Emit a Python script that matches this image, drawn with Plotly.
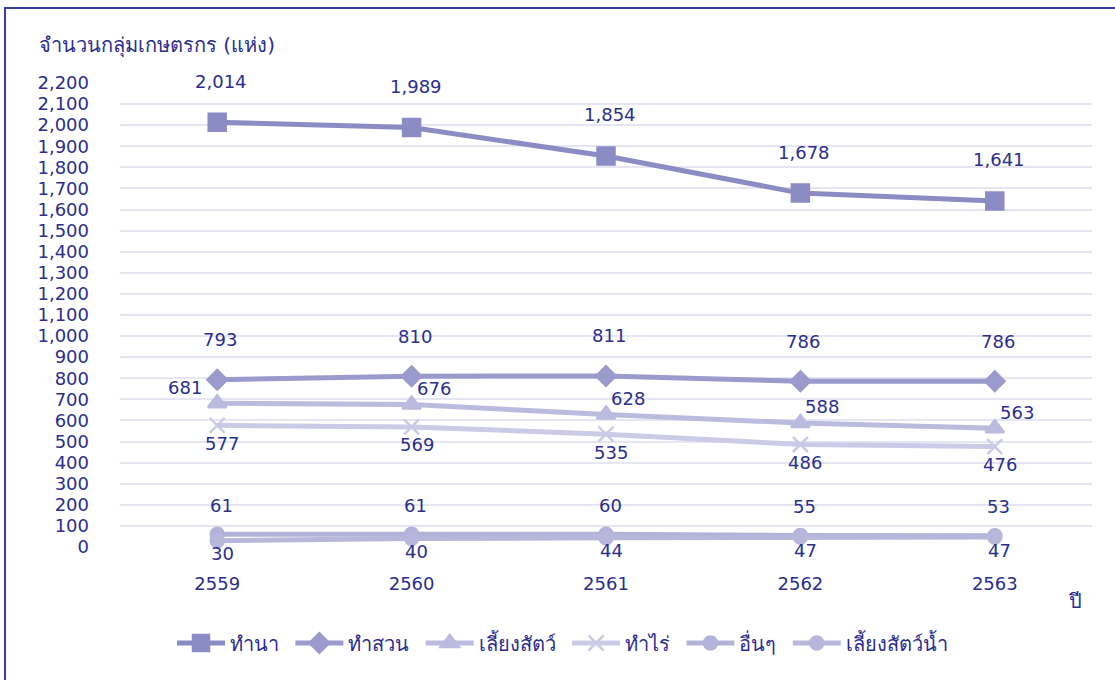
import plotly.graph_objects as go

# Farmer groups by activity, Thai Buddhist-era years
years = ["2559", "2560", "2561", "2562", "2563"]
rice = [2014, 1989, 1854, 1678, 1641]          # ทำนา
orchard = [793, 810, 811, 786, 786]           # ทำสวน
livestock = [681, 676, 628, 588, 563]         # เลี้ยงสัตว์
field_crops = [577, 569, 535, 486, 476]       # ทำไร่
others = [61, 61, 60, 55, 53]                 # อื่นๆ
aquaculture = [30, 40, 44, 47, 47]            # เลี้ยงสัตว์น้ำ

TEXT = "#2B2E8C"
FONT = "Tahoma, 'DejaVu Sans', 'Noto Sans', sans-serif"
PAD = "\u00a0"  # trailing pad to widen legend spacing

series = [
    ("ทำนา", rice, "#8C8CC4", "square", 17),
    ("ทำสวน", orchard, "#9A9ACC", "diamond", 15),
    ("เลี้ยงสัตว์", livestock, "#BBBBDF", "triangle-up", 16),
    ("ทำไร่", field_crops, "#CBCBE7", "x-thin-open", 15),
    ("อื่นๆ", others, "#B3B3D9", "circle", 13),
    ("เลี้ยงสัตว์น้ำ", aquaculture, "#B7B7DB", "circle", 13),
]

fig = go.Figure()
for name, vals, color, sym, size in series:
    fig.add_trace(go.Scatter(
        x=years, y=vals, name=name + PAD, mode="lines+markers",
        line=dict(color=color, width=5),
        marker=dict(symbol=sym, size=size, color=color,
                    line=dict(color=color, width=2.5)),
        cliponaxis=False,
    ))

# value labels: (values, xshift list, yshift); x given as category index
label_specs = [
    (rice, [4] * 5, 41),
    (orchard, [3] * 5, 40),
    (livestock, [-32, 22, 22, 22, 22], 16),
    (field_crops, [5] * 5, -18),
    (others, [4] * 5, 29),
    (aquaculture, [5] * 5, -13),
]
for vals, xs, ys in label_specs:
    for i, (v, dx) in enumerate(zip(vals, xs)):
        fig.add_annotation(x=i, y=v, text=f"{v:,}", showarrow=False,
                           xshift=dx, yshift=ys,
                           font=dict(size=18, color=TEXT, family=FONT))

L, R, T, B = 120, 23, 83, 133
W, H = 1115, 680
pw, ph = W - L - R, H - T - B


def px_x(p):
    return (p - L) / pw


def px_y(p):
    return (H - B - p) / ph


fig.add_annotation(xref="paper", yref="paper", x=px_x(37), y=px_y(45),
                   xanchor="left", yanchor="middle", showarrow=False,
                   text="จำนวนกลุ่มเกษตรกร (แห่ง)",
                   font=dict(size=20, color=TEXT, family=FONT))
fig.add_annotation(xref="paper", yref="paper", x=px_x(1075), y=px_y(601),
                   xanchor="center", yanchor="middle", showarrow=False,
                   text="ปี", font=dict(size=20, color=TEXT, family=FONT))

# outer frame (left and top edges visible)
fig.add_shape(type="rect", xref="paper", yref="paper",
              x0=px_x(5), x1=px_x(1130), y0=px_y(700), y1=px_y(8),
              line=dict(color="#3A3E9E", width=2), layer="below")

fig.update_layout(
    width=W, height=H,
    margin=dict(l=L, r=R, t=T, b=B),
    paper_bgcolor="white", plot_bgcolor="white",
    font=dict(family=FONT, size=18, color=TEXT),
    showlegend=True,
    legend=dict(orientation="h", x=px_x(566), y=px_y(643),
                xanchor="center", yanchor="middle",
                font=dict(size=20, color=TEXT, family=FONT),
                itemwidth=48, tracegroupgap=0),
    xaxis=dict(type="category", range=[-0.5, 4.5],
               showgrid=False, zeroline=False, showline=False,
               ticks="outside", ticklen=9, tickcolor="#E4E4F0", tickwidth=1,
               ticklabelstandoff=11,
               tickfont=dict(size=18, color=TEXT, family=FONT)),
    yaxis=dict(range=[0, 2200], dtick=100, tickformat=",",
               showgrid=True, gridcolor="#E6E6F2", gridwidth=2,
               zeroline=False, showline=False, ticks="",
               ticklabelstandoff=30,
               tickfont=dict(size=18, color=TEXT, family=FONT)),
)

fig.write_html("out.html")
